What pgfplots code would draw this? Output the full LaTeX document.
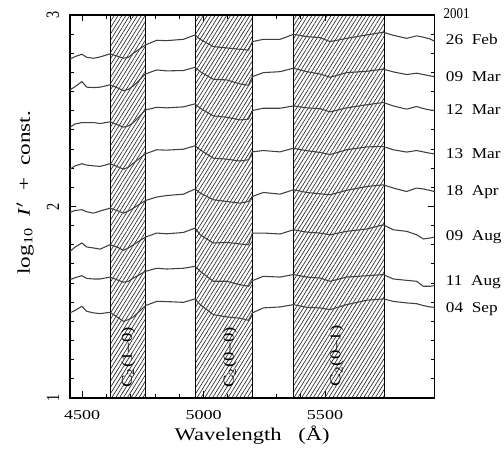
\documentclass[border=0pt]{standalone}
\usepackage{pgfplots}
\pgfplotsset{compat=1.18}
\usepackage{pgfplotstable}
\usepackage{fontspec}
\setmainfont{Liberation Serif}
\usetikzlibrary{patterns.meta,calc}

% log10 I' + const., one column per night (2001)
\pgfplotstableread{
lam  feb26 mar09 mar12 mar13 apr18 aug09 aug11 sep04
4450 2.769 2.609 2.414 2.195 1.969 1.765 1.617 1.444
4471 2.783 2.626 2.431 2.212 1.979 1.788 1.628 1.457
4499 2.795 2.652 2.438 2.223 1.983 1.809 1.638 1.478
4519 2.779 2.623 2.438 2.216 1.972 1.788 1.624 1.452
4547 2.774 2.621 2.438 2.212 1.965 1.783 1.621 1.444
4574 2.781 2.623 2.433 2.209 1.976 1.777 1.621 1.440
4615 2.797 2.635 2.442 2.223 1.991 1.800 1.631 1.447
4643 2.786 2.621 2.428 2.209 1.979 1.788 1.617 1.423
4670 2.774 2.605 2.414 2.195 1.965 1.771 1.604 1.400
4691 2.779 2.612 2.421 2.205 1.976 1.783 1.609 1.409
4711 2.800 2.630 2.438 2.226 1.991 1.800 1.626 1.423
4761 2.844 2.692 2.504 2.275 2.031 1.840 1.661 1.482
4807 2.868 2.713 2.518 2.296 2.049 1.861 1.677 1.504
4848 2.866 2.708 2.515 2.294 2.057 1.857 1.673 1.503
4917 2.873 2.710 2.520 2.299 2.064 1.864 1.677 1.499
4965 2.896 2.727 2.536 2.317 2.091 1.887 1.687 1.517
4986 2.873 2.704 2.513 2.296 2.070 1.852 1.661 1.487
5040 2.835 2.664 2.473 2.252 2.035 1.809 1.609 1.435
5095 2.828 2.661 2.466 2.247 2.026 1.812 1.609 1.423
5150 2.821 2.640 2.452 2.237 2.017 1.804 1.591 1.416
5185 2.817 2.633 2.456 2.244 2.026 1.800 1.583 1.405
5201 2.861 2.678 2.501 2.285 2.052 1.861 1.612 1.444
5246 2.873 2.699 2.513 2.292 2.073 1.861 1.635 1.470
5315 2.873 2.704 2.513 2.285 2.064 1.856 1.631 1.475
5370 2.899 2.722 2.525 2.304 2.087 1.878 1.644 1.487
5425 2.887 2.704 2.515 2.291 2.073 1.866 1.631 1.473
5479 2.882 2.692 2.511 2.282 2.066 1.861 1.626 1.470
5521 2.861 2.675 2.494 2.271 2.061 1.852 1.609 1.461
5589 2.878 2.699 2.515 2.296 2.084 1.870 1.631 1.487
5672 2.896 2.706 2.531 2.311 2.104 1.882 1.638 1.510
5740 2.910 2.717 2.543 2.313 2.113 1.904 1.644 1.517
5781 2.894 2.703 2.525 2.296 2.096 1.878 1.621 1.504
5836 2.878 2.689 2.508 2.284 2.078 1.870 1.614 1.496
5877 2.891 2.696 2.522 2.292 2.096 1.852 1.609 1.492
5905 2.884 2.689 2.511 2.285 2.091 1.830 1.583 1.482
5932 2.875 2.682 2.504 2.278 2.084 1.835 1.583 1.475
5950 2.864 2.678 2.501 2.275 2.078 1.840 1.586 1.473
}\spectra

\begin{document}
\begin{tikzpicture}
\begin{axis}[scale only axis,width=255pt,height=268pt,
  xmin=4450,xmax=5950,ymin=1,ymax=3,clip=false,
  xtick={4500,5000,5500},minor x tick num=4,
  ytick={1,2,3},minor y tick num=9,
  major tick length=4.5pt,minor tick length=2.5pt,
  tick style={black,line width=0.6pt},
  axis line style={line width=0.9pt},
  /pgf/number format/assume math mode=true,
  /pgf/number format/set thousands separator={},
  xticklabel style={font=\fontsize{9.5}{11}\selectfont,xscale=1.33},
  xticklabel shift=5pt,
  yticklabel style={font=\fontsize{10}{12}\selectfont,rotate=90,anchor=south,yscale=1.3},
  yticklabel shift=3pt,
  xlabel={Wavelength\hspace{0.75em}(Å)},
  xlabel style={font=\fontsize{12.5}{14}\selectfont,xscale=1.26,
    at={(axis description cs:0.5,-0.097)},anchor=center},
  ylabel={log\textsubscript{10}\enspace\textit{I}$'$\enspace+\enspace const.},
  ylabel style={font=\fontsize{12.5}{14}\selectfont,
    at={(axis description cs:-0.1235,0.536)},anchor=center,rotate=0,xscale=1.3},
  band/.style={draw=black,line width=0.7pt,
    pattern={Lines[angle=58,distance=2.3pt,line width=0.45pt]},pattern color=black!85},
  spec/.style={black!75,line width=0.75pt,mark=none}]

\addplot[band] coordinates {(4618,1) (4618,3) (4762,3) (4762,1)} -- cycle;
\addplot[band] coordinates {(4968,1) (4968,3) (5203,3) (5203,1)} -- cycle;
\addplot[band] coordinates {(5370,1) (5370,3) (5744,3) (5744,1)} -- cycle;

\addplot[spec] table[x=lam,y=feb26] {\spectra};
\addplot[spec] table[x=lam,y=mar09] {\spectra};
\addplot[spec] table[x=lam,y=mar12] {\spectra};
\addplot[spec] table[x=lam,y=mar13] {\spectra};
\addplot[spec] table[x=lam,y=apr18] {\spectra};
\addplot[spec] table[x=lam,y=aug09] {\spectra};
\addplot[spec] table[x=lam,y=aug11] {\spectra};
\addplot[spec] table[x=lam,y=sep04] {\spectra};

\begin{scope}[every node/.style={rotate=90,xscale=1.25,font=\fontsize{10.5}{12}\selectfont}]
\node at (axis cs:4690,1.21) {C\textsubscript{2}(1–0)};
\node at (axis cs:5109,1.21) {C\textsubscript{2}(0–0)};
\node at (axis cs:5548,1.22) {C\textsubscript{2}(0–1)};
\end{scope}

\begin{scope}[every node/.style={anchor=west,xscale=1.15,font=\fontsize{10.5}{12}\selectfont}]
\node[xscale=0.75] at (axis cs:5971,3.009) {2001};
\node at (axis cs:5974,2.873) {26\enspace Feb};
\node at (axis cs:5974,2.678) {09\enspace Mar};
\node at (axis cs:5974,2.504) {12\enspace Mar};
\node at (axis cs:5974,2.275) {13\enspace Mar};
\node at (axis cs:5974,2.075) {18\enspace Apr};
\node at (axis cs:5974,1.840) {09\enspace Aug};
\node at (axis cs:5974,1.604) {11\enspace Aug};
\node at (axis cs:5974,1.464) {04\enspace Sep};
\end{scope}
\end{axis}
\pgfresetboundingbox
\path ($(current axis.south west)+(-49pt,-38.3pt)$) rectangle ($(current axis.north east)+(48.8pt,10.5pt)$);
\end{tikzpicture}
\end{document}
